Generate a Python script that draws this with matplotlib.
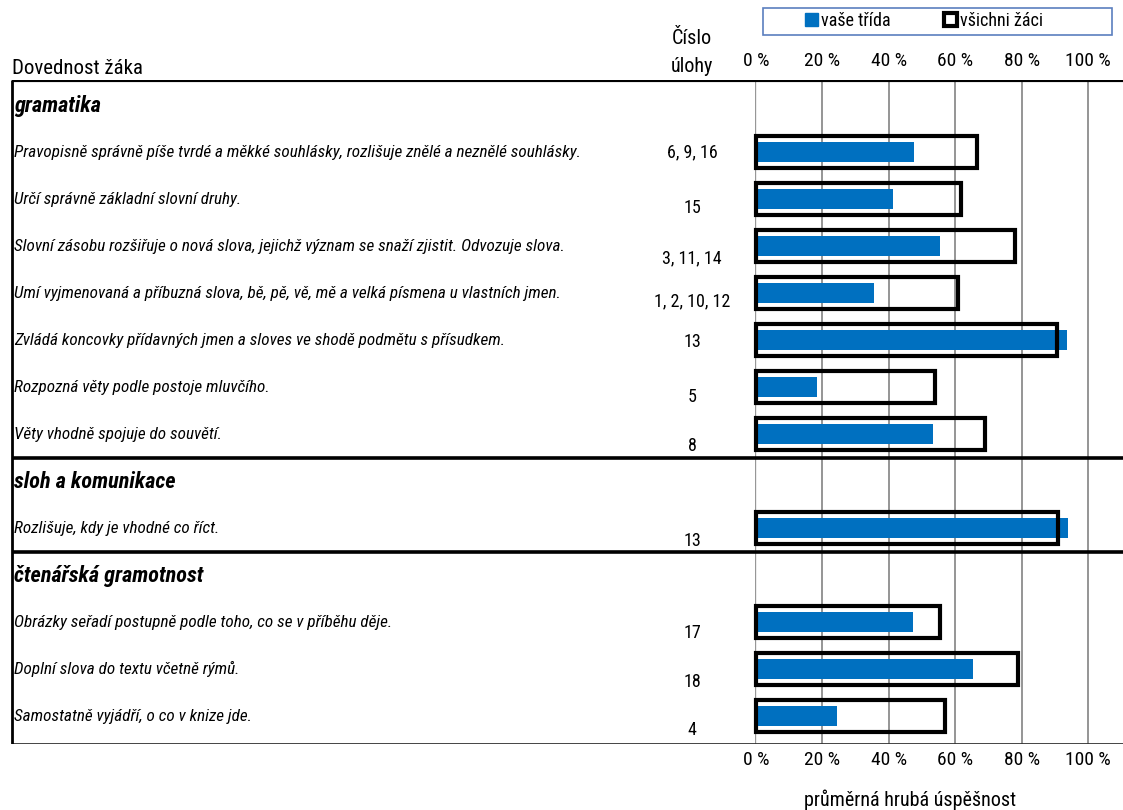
import matplotlib
matplotlib.use("Agg")
import matplotlib.pyplot as plt
from matplotlib.patches import Patch, Rectangle

plt.rcParams['font.family'] = ['Roboto Condensed', 'Liberation Sans', 'DejaVu Sans']

# --- data ---
sections = ["gramatika", "sloh a komunikace", "čtenářská gramotnost"]
skills = [
    ["Pravopisně správně píše tvrdé a měkké souhlásky, rozlišuje znělé a neznělé souhlásky.",
     "Určí správně základní slovní druhy.",
     "Slovní zásobu rozšiřuje o nová slova, jejichž význam se snaží zjistit. Odvozuje slova.",
     "Umí vyjmenovaná a příbuzná slova, bě, pě, vě, mě a velká písmena u vlastních jmen.",
     "Zvládá koncovky přídavných jmen a sloves ve shodě podmětu s přísudkem.",
     "Rozpozná věty podle postoje mluvčího.",
     "Věty vhodně spojuje do souvětí."],
    ["Rozlišuje, kdy je vhodné co říct."],
    ["Obrázky seřadí postupně podle toho, co se v příběhu děje.",
     "Doplní slova do textu včetně rýmů.",
     "Samostatně vyjádří, o co v knize jde."],
]
tasks = [
    ["6, 9, 16", "15", "3, 11, 14", "1, 2, 10, 12", "13", "5", "8"],
    ["13"],
    ["17", "18", "4"],
]
class_vals = [
    [47.6, 41.3, 55.4, 35.5, 93.8, 18.4, 53.3],
    [94.0],
    [47.2, 65.3, 24.4],
]
all_vals = [
    [66.6, 61.7, 78.0, 60.9, 90.7, 53.9, 69.0],
    [91.0],
    [55.3, 78.9, 56.9],
]
xticks = [0, 20, 40, 60, 80, 100]
blue = "#0070C0"

# --- layout (pixel based: 0 % at x=756, 100 % at x=1088) ---
W, H = 1123, 810
x0_px, x100_px = 756, 1088
ppu = (x100_px - x0_px) / 100.0
fig = plt.figure(figsize=(W / 100, H / 100), dpi=100)
top_px, bot_px = 80, 744
ax = fig.add_axes([0, 1 - bot_px / H, 1, (bot_px - top_px) / H])
ax.set_xlim(-x0_px / ppu, (W - x0_px) / ppu)
slot0, step = 105, 47.0
ax.set_ylim((bot_px - slot0) / step, (top_px - slot0) / step)
ax.axis("off")

def px2x(px):
    return (px - x0_px) / ppu

ylo, yhi = ax.get_ylim()
xr = ax.get_xlim()[1]
ax.vlines(xticks, yhi, ylo, color="#8c8c8c", lw=1.3, zorder=1)
ax.vlines([0], yhi, ylo, color="white", lw=0.6, zorder=1.1)

# vertical offset of task numbers (in rows), as in the original layout
num_off = [[0, 0.2, 0.26, 0.18, 0.05, 0.22, 0.26], [0.28], [0.24, 0.28, 0.3]]
slot = 0
for si, sec in enumerate(sections):
    ax.text(px2x(14), slot + 0.02, sec, fontsize=16, fontweight="bold", fontstyle="italic",
            va="center", ha="left")
    slot += 1
    for k in range(len(skills[si])):
        ax.barh(slot, class_vals[si][k], height=0.41, left=0, color=blue, zorder=2)
        ax.barh(slot, all_vals[si][k], height=0.67, left=0, facecolor="none",
                edgecolor="black", lw=3.0, zorder=3)
        ax.text(px2x(14), slot, skills[si][k], fontsize=12.3, fontstyle="italic",
                va="center", ha="left")
        ax.text(px2x(692), slot + num_off[si][k], tasks[si][k], fontsize=13,
                va="center", ha="center")
        slot += 1
    if si < len(sections) - 1:
        ax.hlines(slot - 0.49, px2x(12), xr, color="black", lw=2.6, zorder=4)

ax.hlines(yhi, px2x(12), xr, color="black", lw=3, zorder=4)
ax.hlines(ylo, px2x(12), xr, color="#333333", lw=2, zorder=4)
ax.vlines([px2x(12)], yhi, ylo, color="black", lw=2, zorder=4)

# tick labels top and bottom
for t in xticks:
    fig.text((x0_px + t * ppu) / W, 1 - 61 / H, f"{t} %", fontsize=14, ha="center", va="center")
    fig.text((x0_px + t * ppu) / W, 1 - 760 / H, f"{t} %", fontsize=14, ha="center", va="center")

fig.text(12 / W, 1 - 68 / H, "Dovednost žáka", fontsize=15, ha="left", va="center")
fig.text(692 / W, 1 - 38 / H, "Číslo", fontsize=14.5, ha="center", va="center")
fig.text(692 / W, 1 - 66 / H, "úlohy", fontsize=14.5, ha="center", va="center")
fig.text(910 / W, 1 - 800 / H, "průměrná hrubá úspěšnost", fontsize=14.5, ha="center", va="center")

# legend with its own frame box
fig.add_artist(Rectangle((763 / W, 1 - 35 / H), 349 / W, 27 / H, transform=fig.transFigure,
                         facecolor="white", edgecolor="#5b7fbf", lw=1.2))
handles = [Patch(facecolor=blue, edgecolor=blue, label="vaše třída"),
           Patch(facecolor="white", edgecolor="black", lw=3, label="všichni žáci")]
fig.legend(handles=handles, loc="center", ncol=2, bbox_to_anchor=(924 / W, 1 - 21 / H),
           fontsize=13, frameon=False, handlelength=0.7, handleheight=0.7,
           handletextpad=0.15, columnspacing=3.0, borderpad=0)

fig.savefig("out.png", dpi=100)
